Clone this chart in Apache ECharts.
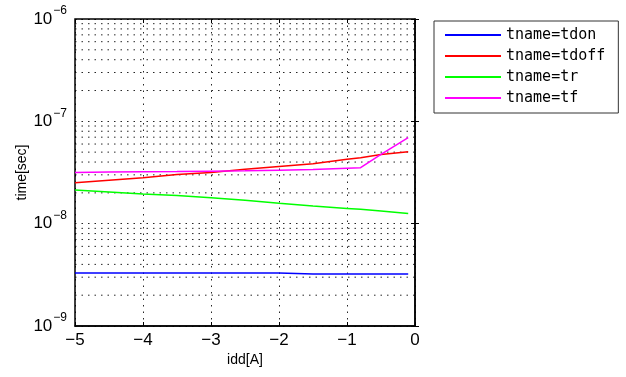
<!DOCTYPE html>
<html>
<head>
<meta charset="utf-8">
<script src="https://cdn.jsdelivr.net/npm/echarts@6/dist/echarts.min.js"></script>
<style>
  html, body { margin: 0; padding: 0; background: #fff; }
  #chart { width: 626px; height: 377px; }
</style>
</head>
<body>
<div id="chart"></div>
<script>
// idd sweep points
const idd = [-5, -4.5, -4, -3.5, -3, -2.5, -2, -1.5, -1, -0.8, -0.5, -0.1];
// times in seconds
const tdon  = [3.3e-9, 3.3e-9, 3.3e-9, 3.3e-9, 3.3e-9, 3.3e-9, 3.29e-9, 3.22e-9, 3.22e-9, 3.22e-9, 3.22e-9, 3.22e-9];
const tdoff = [2.51e-8, 2.66e-8, 2.81e-8, 3.03e-8, 3.17e-8, 3.4e-8, 3.62e-8, 3.85e-8, 4.25e-8, 4.4e-8, 4.75e-8, 5.05e-8];
const tr    = [2.13e-8, 2.04e-8, 1.95e-8, 1.88e-8, 1.79e-8, 1.69e-8, 1.58e-8, 1.49e-8, 1.41e-8, 1.38e-8, 1.33e-8, 1.26e-8];
const tf    = [3.17e-8, 3.19e-8, 3.21e-8, 3.23e-8, 3.26e-8, 3.29e-8, 3.33e-8, 3.38e-8, 3.48e-8, 3.52e-8, 4.75e-8, 6.92e-8];

const seriesNames = ['tname=tdon', 'tname=tdoff', 'tname=tr', 'tname=tf'];
const seriesColors = ['#0000ff', '#ff0000', '#00ff00', '#ff00ff'];
const seriesData = [tdon, tdoff, tr, tf];

// 2..9 x 10^n grid lines of the log axis
const minorGrid = [];
for (let e = -9; e < -6; e++) {
  for (let k = 2; k <= 9; k++) minorGrid.push(k * Math.pow(10, e));
}

const font = "'Liberation Sans Narrow', 'Liberation Sans', sans-serif";
const dots = [1.5, 5];
const gridLine = { color: '#000', type: dots, width: 1, opacity: 0.85 };
const tick = { inside: true, length: 4, lineStyle: { color: '#000' } };

const chart = echarts.init(document.getElementById('chart'));

// dotted minor grid, drawn as plain line series across the x range
const gridSeries = minorGrid.map(v => ({
  type: 'line',
  symbol: 'none',
  silent: true,
  lineStyle: gridLine,
  data: [[-5, v], [0, v]],
  z: 1
}));

const series = seriesNames.map((name, i) => ({
  name: name,
  type: 'line',
  symbol: 'none',
  color: seriesColors[i],
  lineStyle: { width: 1.5, color: seriesColors[i] },
  data: idd.map((x, j) => [x, seriesData[i][j]]),
  z: 3
}));

chart.setOption({
  animation: false,
  grid: {
    left: 75, right: 211, top: 19, bottom: 51,
    show: true, borderColor: '#000', borderWidth: 1.5, backgroundColor: '#fff'
  },
  legend: {
    orient: 'vertical',
    left: 434, top: 21,
    padding: [6, 13, 7, 11],
    icon: 'rect',
    itemGap: 5,
    itemWidth: 56,
    itemHeight: 2,
    borderColor: '#333',
    borderWidth: 1,
    backgroundColor: '#fff',
    textStyle: { fontFamily: "'DejaVu Sans Mono', monospace", fontSize: 15, color: '#000', lineHeight: 16 },
    data: seriesNames
  },
  xAxis: [{
    type: 'value',
    min: -5, max: 0, interval: 1,
    name: 'idd[A]',
    nameLocation: 'middle',
    nameGap: 27,
    nameMoveOverlap: false,
    nameTextStyle: { fontFamily: font, fontSize: 14, color: '#000' },
    axisLine: { lineStyle: { color: '#000', width: 1.5 } },
    axisTick: tick,
    axisLabel: {
      fontFamily: font, fontSize: 17, color: '#000', margin: 6,
      formatter: v => String(v).replace('-', '\u2212')
    },
    splitLine: { show: true, lineStyle: gridLine }
  }, {
    type: 'value',
    position: 'top',
    min: -5, max: 0, interval: 1,
    axisLine: { show: false },
    axisTick: tick,
    axisLabel: { show: false },
    splitLine: { show: false }
  }],
  yAxis: [{
    type: 'log',
    logBase: 10,
    min: 1e-9, max: 1e-6,
    name: 'time[sec]',
    nameLocation: 'middle',
    nameGap: 46,
    nameMoveOverlap: false,
    nameTextStyle: { fontFamily: font, fontSize: 14, color: '#000' },
    axisLine: { lineStyle: { color: '#000', width: 1.5 } },
    axisTick: tick,
    axisLabel: {
      margin: 8,
      formatter: v => '{b|10}{e|' + String(Math.round(Math.log10(v))).replace('-', '\u2212') + '}',
      rich: {
        b: { fontFamily: font, fontSize: 17, color: '#000' },
        e: { fontFamily: font, fontSize: 12, color: '#000', padding: [0, 0, 16, 1] }
      }
    },
    splitLine: { show: true, lineStyle: gridLine }
  }, {
    type: 'log',
    logBase: 10,
    position: 'right',
    min: 1e-9, max: 1e-6,
    axisLine: { show: false },
    axisTick: tick,
    axisLabel: { show: false },
    splitLine: { show: false }
  }],
  series: gridSeries.concat(series)
});
</script>
</body>
</html>
